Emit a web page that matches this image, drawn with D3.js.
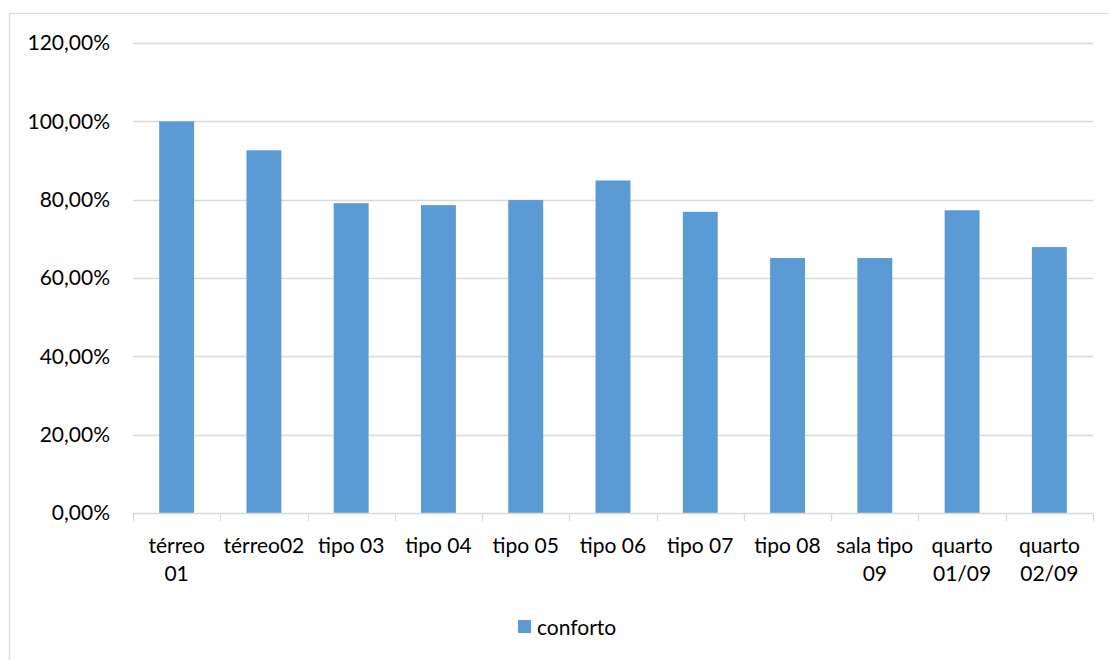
<!DOCTYPE html>
<html>
<head>
<meta charset="utf-8">
<script src="https://cdn.jsdelivr.net/npm/d3@7"></script>
<style>
  html, body { margin: 0; padding: 0; background: #fff; }
  svg text { font-family: Lato, "Open Sans", sans-serif; fill: #000; }
</style>
</head>
<body>
<svg id="chart" width="1109" height="660"></svg>
<script>
// Categories (rooms) and comfort share per room
const categories = ["térreo 01", "térreo02", "tipo 03", "tipo 04", "tipo 05", "tipo 06",
                    "tipo 07", "tipo 08", "sala tipo 09", "quarto 01/09", "quarto 02/09"];
const conforto = [1.0, 0.926, 0.791, 0.786, 0.799, 0.849, 0.769, 0.651, 0.651, 0.773, 0.679];
const yTicks = [0, 0.2, 0.4, 0.6, 0.8, 1.0, 1.2];
const seriesName = "conforto";

const svg = d3.select("#chart");
const W = 1109, H = 660;
const margin = { left: 133, right: 16, top: 43, bottom: 147 };
const plotW = W - margin.left - margin.right;
const plotH = H - margin.top - margin.bottom;
const barColor = "#5b9bd5";
const gridColor = "#d9d9d9";
const fontSize = 21;

// outer chart frame
svg.append("rect")
  .attr("x", 9.5).attr("y", 13.5)
  .attr("width", W + 10).attr("height", H + 10)
  .attr("fill", "none").attr("stroke", "#d9d9d9").attr("stroke-width", 1.3);

const g = svg.append("g").attr("transform", `translate(${margin.left},${margin.top})`);

const x = d3.scaleBand().domain(categories).range([0, plotW]).padding(0);
const y = d3.scaleLinear().domain([0, 1.2]).range([plotH, 0]);

const fmt = v => d3.format(".2f")(v * 100).replace(".", ",") + "%";

// horizontal gridlines
g.append("g")
  .selectAll("line")
  .data(yTicks.filter(t => t > 0))
  .join("line")
  .attr("x1", 0).attr("x2", plotW)
  .attr("y1", d => Math.round(y(d)) + 0.5).attr("y2", d => Math.round(y(d)) + 0.5)
  .attr("stroke", gridColor).attr("stroke-width", 1.3);

// y axis labels
const yAxis = d3.axisLeft(y).tickValues(yTicks).tickFormat(fmt).tickSize(0).tickPadding(23);
const ya = g.append("g").call(yAxis);
ya.select(".domain").remove();
ya.selectAll("text").attr("font-size", fontSize).attr("fill", "#000")
  .style("font-family", "Lato, 'Open Sans', sans-serif");

// bars: width is 40% of each category slot
const barW = x.bandwidth() * 0.4;
g.append("g")
  .selectAll("rect")
  .data(categories)
  .join("rect")
  .attr("x", (d) => x(d) + (x.bandwidth() - barW) / 2)
  .attr("width", barW)
  .attr("y", (d, i) => y(conforto[i]))
  .attr("height", (d, i) => y(0) - y(conforto[i]))
  .attr("fill", barColor);

// x axis with category separators
const xAxis = d3.axisBottom(x).tickSize(0).tickFormat("");
const xa = g.append("g").attr("transform", `translate(0,${plotH})`).call(xAxis);
xa.select(".domain").remove();
xa.append("line")
  .attr("x1", 0).attr("x2", plotW)
  .attr("y1", 0.5).attr("y2", 0.5)
  .attr("stroke", gridColor).attr("stroke-width", 1.3);
const bounds = categories.map(c => x(c)).concat([plotW]);
xa.selectAll("line.sep")
  .data(bounds)
  .join("line")
  .attr("class", "sep")
  .attr("x1", d => Math.round(d) + 0.5).attr("x2", d => Math.round(d) + 0.5)
  .attr("y1", 0).attr("y2", 8)
  .attr("stroke", gridColor).attr("stroke-width", 1.3);

// category labels, wrapped to the slot width
const labels = xa.selectAll("text.cat")
  .data(categories)
  .join("text")
  .attr("class", "cat")
  .attr("x", d => x(d) + x.bandwidth() / 2)
  .attr("y", 40)
  .attr("text-anchor", "middle")
  .attr("font-size", fontSize);

labels.each(function(d) {
  const t = d3.select(this);
  const words = d.split(" ");
  const maxW = x.bandwidth() - 7;
  let lines = [];
  let cur = [];
  const probe = t.append("tspan");
  words.forEach(w => {
    const test = cur.concat([w]).join(" ");
    probe.text(test);
    if (probe.node().getComputedTextLength() > maxW && cur.length) {
      lines.push(cur.join(" "));
      cur = [w];
    } else {
      cur.push(w);
    }
  });
  lines.push(cur.join(" "));
  probe.remove();
  lines.forEach((ln, i) => {
    t.append("tspan")
      .attr("x", x(d) + x.bandwidth() / 2)
      .attr("dy", i === 0 ? 0 : 28)
      .text(ln);
  });
});

// legend
const leg = svg.append("g").attr("transform", "translate(518,620)");
leg.append("rect").attr("width", 13).attr("height", 13).attr("fill", barColor);
leg.append("text").attr("x", 19).attr("y", 14.5).attr("font-size", fontSize).text(seriesName);
</script>
</body>
</html>
